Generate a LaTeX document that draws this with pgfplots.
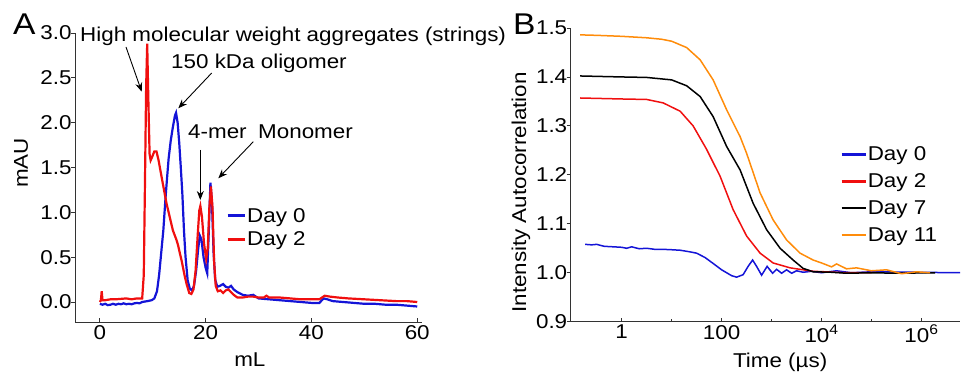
\documentclass[border=0pt]{standalone}
\usepackage{fontspec}
\setmainfont[FakeStretch=1.12]{Liberation Sans}
\usepackage{pgfplots}
\pgfplotsset{compat=1.18}
\usetikzlibrary{arrows.meta}
\definecolor{cblue}{RGB}{20,20,215}
\definecolor{cred}{RGB}{240,15,15}
\definecolor{corange}{RGB}{255,140,10}
\newcommand{\tf}{\fontsize{20bp}{23bp}\selectfont}
\pgfplotsset{
  myax/.style={
    scale only axis,
    axis x line*=bottom, axis y line*=left,
    axis line style={-, line width=0.9bp, black!80},
    tick style={black!80, line width=0.8bp},
    tick align=inside,
    major tick length=4bp, minor tick length=2.5bp,
    y tick style={xshift=-4bp},
    font=\tf, tick label style={font=\tf},
    label style={font=\tf},
    /pgf/number format/assume math mode=true,
    legend cell align=left,
    legend style={draw=none, fill=none, font=\tf, inner sep=0pt, nodes={font=\tf, inner sep=1bp}},
  }
}
\begin{document}
\begin{tikzpicture}[x=1bp,y=1bp]
\useasboundingbox (0bp,0bp) rectangle (961bp,372bp);
% ---------------- Panel A
\begin{axis}[myax,
  at={(75bp,50bp)}, anchor=south west,
  width=347bp, height=289bp,
  xmin=-4.7, xmax=60.9, ymin=-0.223, ymax=3.0,
  xtick={0,20,40,60},
  ytick={0,0.5,1,1.5,2,2.5,3},
  yticklabel style={/pgf/number format/.cd, fixed, fixed zerofill, precision=1},
  xlabel={mL}, ylabel={mAU},
  xlabel style={at={(axis description cs:0.504,-0.131)}, anchor=center},
  ylabel style={at={(axis description cs:-0.155,0.55)}, anchor=center, rotate=0},
  legend style={at={(axis description cs:0.435,0.398)}, anchor=north west, row sep=6bp},
  legend image code/.code={\draw[#1, line width=3bp] (0bp,0bp) -- (17bp,0bp);},
]
\addplot[cblue, line width=2.2bp] coordinates {
(0,-0.02) (0.5,-0.03) (1,-0.02) (1.5,-0.035) (2,-0.03) (2.5,-0.02) (3,-0.03) (3.5,-0.02) (4,-0.025)
(4.5,-0.015) (5,-0.025) (5.5,-0.02) (6,-0.025) (6.5,-0.015) (7,-0.01) (7.5,-0.015) (8,0.0) (9,0.01) (9.8,0.02)
(10.3,0.04) (10.8,0.12) (11.2,0.3) (11.6,0.55) (12.0,0.8) (12.4,1.15) (12.7,1.38) (13.0,1.6)
(13.4,1.8) (13.8,1.95) (14.2,2.08) (14.4,2.11) (14.7,2.0) (15.0,1.78) (15.3,1.5) (15.6,1.2)
(15.9,0.8) (16.2,0.5) (16.6,0.24) (17.0,0.15) (17.4,0.13) (17.8,0.18) (18.2,0.35) (18.6,0.6)
(18.9,0.74) (19.2,0.7) (19.6,0.5) (20.0,0.38) (20.3,0.32) (20.6,0.8) (20.9,1.33) (21.2,1.1)
(21.5,0.55) (21.8,0.25) (22.2,0.17) (22.7,0.18) (23.3,0.2) (23.8,0.17) (24.3,0.16) (24.8,0.18)
(25.3,0.14) (26,0.11) (27,0.08) (28,0.07) (29,0.08) (29.5,0.06) (30,0.04) (32,0.03) (34,0.02)
(36,0.01) (38,0.0) (40,-0.01) (41.5,-0.01) (42.3,0.04) (43,0.03) (44,0.01) (46,0.0) (48,-0.01)
(50,-0.02) (52,-0.02) (54,-0.03) (56,-0.03) (58,-0.04) (60,-0.05)
};
\addlegendentry{Day 0}
\addplot[cred, line width=2.2bp] coordinates {
(0,0.0) (0.2,0.02) (0.35,0.12) (0.5,0.02) (1,0.02) (2,0.03) (3,0.03) (4,0.035) (5,0.04) (6,0.03)
(7,0.04) (8.0,0.04) (8.3,0.3) (8.5,1.2) (8.75,2.4) (8.95,2.88) (9.15,2.3) (9.4,1.65) (9.6,1.58)
(9.9,1.62) (10.3,1.68) (10.7,1.68) (11.1,1.58) (11.5,1.45) (12.0,1.29) (12.6,1.1) (13.2,0.95)
(13.8,0.8) (14.5,0.69) (14.8,0.63) (15.1,0.55) (15.5,0.45) (16.0,0.3) (16.4,0.2) (16.9,0.1)
(17.3,0.09) (17.7,0.14) (18.1,0.35) (18.5,0.75) (18.8,1.02) (19.0,1.07) (19.3,0.95) (19.7,0.65)
(20.1,0.48) (20.4,0.6) (20.7,1.05) (21.0,1.29) (21.3,1.05) (21.6,0.45) (21.9,0.18) (22.3,0.12)
(22.8,0.13) (23.3,0.1) (23.8,0.13) (24.3,0.14) (24.8,0.11) (25.3,0.08) (26,0.05) (27,0.05)
(28,0.06) (29,0.06) (30,0.05) (31,0.05) (31.5,0.07) (32,0.05) (34,0.05) (36,0.04) (38,0.03)
(40,0.03) (41.5,0.03) (42.5,0.07) (43.5,0.06) (45,0.05) (47,0.04) (50,0.03) (53,0.02) (56,0.01)
(58,0.01) (60,0.0)
};
\addlegendentry{Day 2}
\end{axis}
% ---------------- Panel B
\begin{axis}[myax,
  at={(570.7bp,50.3bp)}, anchor=south west,
  width=389.3bp, height=293.7bp,
  xmin=-1.02, xmax=6.77, ymin=0.9, ymax=1.5,
  xtick={0,2,4,6},
  xticklabels={1,100,10\textsuperscript{4},10\textsuperscript{6}},
  minor xtick={1,3,5},
  ytick={0.9,1.0,1.1,1.2,1.3,1.4,1.5},
  yticklabel style={/pgf/number format/.cd, fixed, fixed zerofill, precision=1},
  xlabel={Time (µs)}, ylabel={Intensity Autocorrelation},
  xlabel style={at={(axis description cs:0.538,-0.139)}, anchor=center},
  ylabel style={at={(axis description cs:-0.128,0.44)}, anchor=center, rotate=0},
  legend style={at={(axis description cs:0.692,0.60)}, anchor=north west, row sep=9.5bp},
  legend image code/.code={\draw[#1, line width=2.5bp] (0bp,0bp) -- (24bp,0bp);},
]
\addplot[cblue, line width=1.5bp] coordinates {
(-0.73,1.058) (-0.6,1.057) (-0.5,1.058) (-0.35,1.054) (-0.17,1.053) (0,1.052) (0.1,1.05) (0.2,1.053)
(0.35,1.049) (0.5,1.05) (0.65,1.048) (0.8,1.048) (1.0,1.047) (1.17,1.046) (1.35,1.043) (1.5,1.04)
(1.67,1.031) (1.83,1.019) (2.0,1.006) (2.1,1.0) (2.2,0.994) (2.3,0.991) (2.43,0.996) (2.53,1.013)
(2.62,1.026) (2.7,1.013) (2.8,0.995) (2.91,1.013) (3.02,0.999) (3.1,1.007) (3.2,0.999) (3.3,1.006)
(3.4,0.999) (3.5,1.004) (3.63,1.001) (3.8,1.003) (4.0,1.0) (4.3,1.004) (4.6,1.0) (5,1.002) (6.77,1.0)
};
\addlegendentry{Day 0}
\addplot[cred, line width=1.5bp] coordinates {
(-0.83,1.357) (0,1.355) (0.5,1.354) (0.83,1.347) (1.17,1.33) (1.43,1.3) (1.7,1.252) (1.97,1.197)
(2.23,1.129) (2.5,1.075) (2.77,1.04) (3.03,1.02) (3.37,1.01) (3.83,1.003) (4.5,1.0) (5,1.0)
};
\addlegendentry{Day 2}
\addplot[black, line width=1.5bp] coordinates {
(-0.83,1.402) (0,1.4) (0.5,1.399) (1.0,1.394) (1.3,1.382) (1.57,1.36) (1.83,1.319) (2.1,1.258)
(2.37,1.21) (2.63,1.142) (2.9,1.088) (3.17,1.05) (3.43,1.026) (3.63,1.009) (3.83,1.002) (4.2,1.001)
(4.5,0.999) (5.0,1.0) (5.5,0.999) (6.27,1.0)
};
\addlegendentry{Day 7}
\addplot[corange, line width=1.5bp] coordinates {
(-0.83,1.486) (-0.5,1.485) (0,1.483) (0.5,1.48) (0.8,1.477) (1.0,1.473) (1.3,1.46) (1.57,1.435)
(1.83,1.394) (2.1,1.333) (2.37,1.278) (2.5,1.244) (2.77,1.163) (3.03,1.108) (3.3,1.067) (3.57,1.04)
(3.83,1.026) (4.0,1.02) (4.2,1.012) (4.3,1.018) (4.5,1.008) (4.7,1.01) (5.0,1.004) (5.3,1.006)
(5.6,0.998) (5.9,1.002) (6.17,1.0)
};
\addlegendentry{Day 11}
\end{axis}
% ---------------- annotations
\node[anchor=base west, inner sep=0, font=\fontsize{30bp}{32bp}\selectfont] at (13bp,337bp) {A};
\node[anchor=base west, inner sep=0, font=\fontsize{30bp}{32bp}\selectfont] at (513bp,337bp) {B};
\begin{scope}[font=\tf]
\node[anchor=base west, inner sep=0] at (80bp,330.3bp) {High molecular weight aggregates (strings)};
\node[anchor=base west, inner sep=0] at (171bp,303.7bp) {150 kDa oligomer};
\node[anchor=base west, inner sep=0] at (188bp,233.7bp) {4-mer};
\node[anchor=base west, inner sep=0] at (258bp,233.7bp) {Monomer};
\end{scope}
\begin{scope}[-{Stealth[length=9bp,width=7bp]}, line width=0.9bp]
\draw (126bp,325bp) -- (141.7bp,280.3bp);
\draw (211.7bp,299bp) -- (178.3bp,263.7bp);
\draw (200.3bp,222bp) -- (200.3bp,172bp);
\draw (253.3bp,230.3bp) -- (218.3bp,193.7bp);
\end{scope}
\end{tikzpicture}
\end{document}
